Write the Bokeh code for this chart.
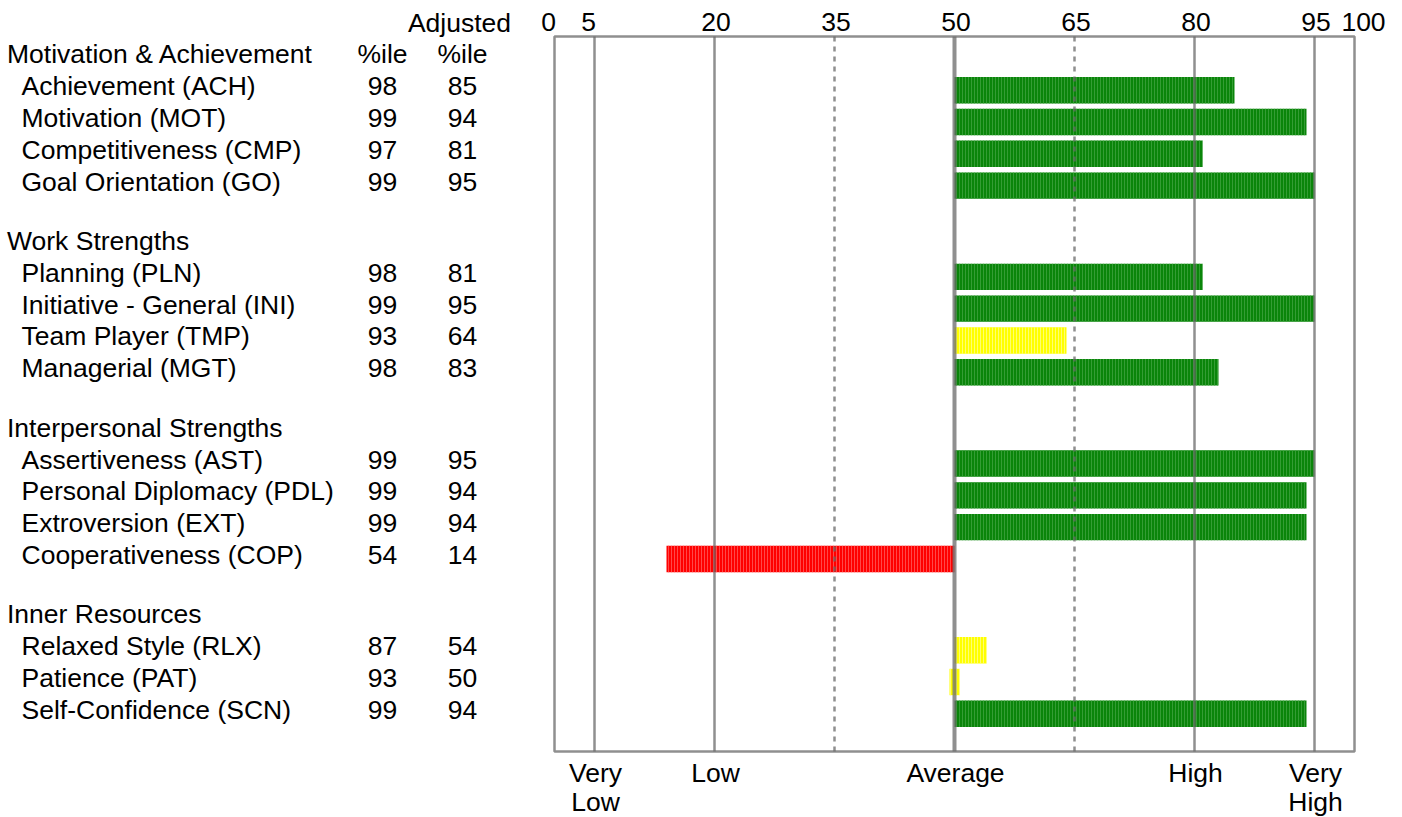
from bokeh.plotting import figure
from bokeh.models import Range1d, ColumnDataSource
from bokeh.core.properties import value
from bokeh.embed import file_html
from bokeh.resources import INLINE

# ---------------- data ----------------
sections = ["Motivation & Achievement", "Work Strengths",
            "Interpersonal Strengths", "Inner Resources"]
section_items = [
    ["Achievement (ACH)", "Motivation (MOT)", "Competitiveness (CMP)", "Goal Orientation (GO)"],
    ["Planning (PLN)", "Initiative - General (INI)", "Team Player (TMP)", "Managerial (MGT)"],
    ["Assertiveness (AST)", "Personal Diplomacy (PDL)", "Extroversion (EXT)", "Cooperativeness (COP)"],
    ["Relaxed Style (RLX)", "Patience (PAT)", "Self-Confidence (SCN)"],
]
percentile = [98, 99, 97, 99, 98, 99, 93, 98, 99, 99, 99, 54, 87, 93, 99]
adjusted = [85, 94, 81, 95, 81, 95, 64, 83, 95, 94, 94, 14, 54, 50, 94]
scale_ticks = [0, 5, 20, 35, 50, 65, 80, 95, 100]
solid_lines = [5, 20, 80, 95]
dashed_lines = [35, 65]
mid_line = [50]
band_ticks = [5, 20, 50, 80, 95]
band_labels = ["Very\nLow", "Low", "Average", "High", "Very\nHigh"]

# ---------------- layout / style ----------------
W, H = 1402, 817
PX_PER_UNIT = 8.0
X0_PX = 554.0
def X(px):
    return (px - X0_PX) / PX_PER_UNIT

FONT = value("Liberation Sans")
FS = "26.5px"
MID = 9.3          # distance from baseline to text middle (px)
ROW = 31.8
GAP = 1.87
FIRST_BASE = 95.0
FRAME_TOP, FRAME_BOTTOM = 36.0, 751.0
GREEN = ("#0a850a", "#3fa33f")
YELLOW = ("#ffff00", "#ffff8c")
RED = ("#ff0000", "#ff5a5a")

def bar_colors(v):
    if v >= 65:
        return GREEN
    if v >= 35:
        return YELLOW
    return RED

# row slots
header_base, item_base, item_names = [], [], []
slot = -1.0
for k, (sec, items) in enumerate(zip(sections, section_items)):
    if k > 0:
        slot += GAP
    header_base.append(FIRST_BASE + ROW * slot)
    for name in items:
        slot += 1
        item_base.append(FIRST_BASE + ROW * slot)
        item_names.append(name)

def mid(ys):
    return [y - MID for y in ys]

p = figure(width=W, height=H, x_range=Range1d(X(0), X(W)), y_range=Range1d(H, 0),
           output_backend="svg", toolbar_location=None,
           x_axis_type=None, y_axis_type=None, min_border=0,
           outline_line_color=None)
p.grid.visible = False
p.background_fill_color = "white"
p.border_fill_color = "white"

# bars
left, right, fills, hatches = [], [], [], []
for v in adjusted:
    lo, hi = min(50, v), max(50, v)
    if lo == hi:
        lo, hi = 50 - 0.625, 50 + 0.625
    left.append(lo)
    right.append(hi)
    f, h = bar_colors(v)
    fills.append(f)
    hatches.append(h)
bars = ColumnDataSource(dict(y=[b - 5.3 for b in item_base], left=left, right=right,
                             fill=fills, hatch=hatches))
p.hbar(y="y", left="left", right="right", height=26.4, source=bars,
       fill_color="fill", line_color=None, hatch_pattern="|",
       hatch_color="hatch", hatch_scale=3, hatch_weight=1, hatch_alpha=0.8)

# grid lines
GRID = "#6a6a6a"
p.segment(x0=solid_lines, x1=solid_lines, y0=FRAME_TOP, y1=FRAME_BOTTOM,
          line_color=GRID, line_width=2.5, line_alpha=0.75)
p.segment(x0=dashed_lines, x1=dashed_lines, y0=FRAME_TOP, y1=FRAME_BOTTOM,
          line_color=GRID, line_width=2.5, line_alpha=0.75, line_dash="5 5")
p.segment(x0=mid_line, x1=mid_line, y0=FRAME_TOP, y1=FRAME_BOTTOM,
          line_color=GRID, line_width=4, line_alpha=0.75)
# frame
p.quad(left=[scale_ticks[0]], right=[scale_ticks[-1]], top=[FRAME_TOP], bottom=[FRAME_BOTTOM],
       fill_color=None, line_color=GRID, line_width=2.5, line_alpha=0.75)

# top scale labels
nudge = {0: -6, 5: -6, 100: 9}
p.text(x=scale_ticks, y=mid([31] * len(scale_ticks)), text=[str(t) for t in scale_ticks],
       x_offset=[nudge.get(t, 1.5) for t in scale_ticks],
       text_font=FONT, text_font_size=FS, text_align="center",
       text_baseline="middle", text_color="black")

# bottom band labels
bx, by, bt = [], [], []
for t, lab in zip(band_ticks, band_labels):
    for i, line in enumerate(lab.split("\n")):
        bx.append(t)
        by.append(782.0 + 28.8 * i)
        bt.append(line)
p.text(x=bx, y=mid(by), text=bt, x_offset=1, text_font=FONT, text_font_size=FS,
       text_align="center", text_baseline="middle", text_color="black")

# table: headers
p.text(x=[X(6.5)] * len(sections), y=mid(header_base), text=sections,
       text_font=FONT, text_font_size=FS, text_align="left",
       text_baseline="middle", text_color="black")
# table: item names
p.text(x=[X(21)] * len(item_names), y=mid(item_base), text=item_names,
       text_font=FONT, text_font_size=FS, text_align="left",
       text_baseline="middle", text_color="black")
# table: values
C1, C2 = X(382), X(462)
p.text(x=[C1] * len(percentile), y=mid(item_base), text=[str(v) for v in percentile],
       text_font=FONT, text_font_size=FS, text_align="center",
       text_baseline="middle", text_color="black")
p.text(x=[C2] * len(adjusted), y=mid(item_base), text=[str(v) for v in adjusted],
       text_font=FONT, text_font_size=FS, text_align="center",
       text_baseline="middle", text_color="black")
# column headers
p.text(x=[C1, C2, X(459)], y=mid([header_base[0], header_base[0], 31.5]),
       text=["%ile", "%ile", "Adjusted"],
       text_font=FONT, text_font_size=FS, text_align="center",
       text_baseline="middle", text_color="black")

open("out.html", "w").write(file_html(p, INLINE))
